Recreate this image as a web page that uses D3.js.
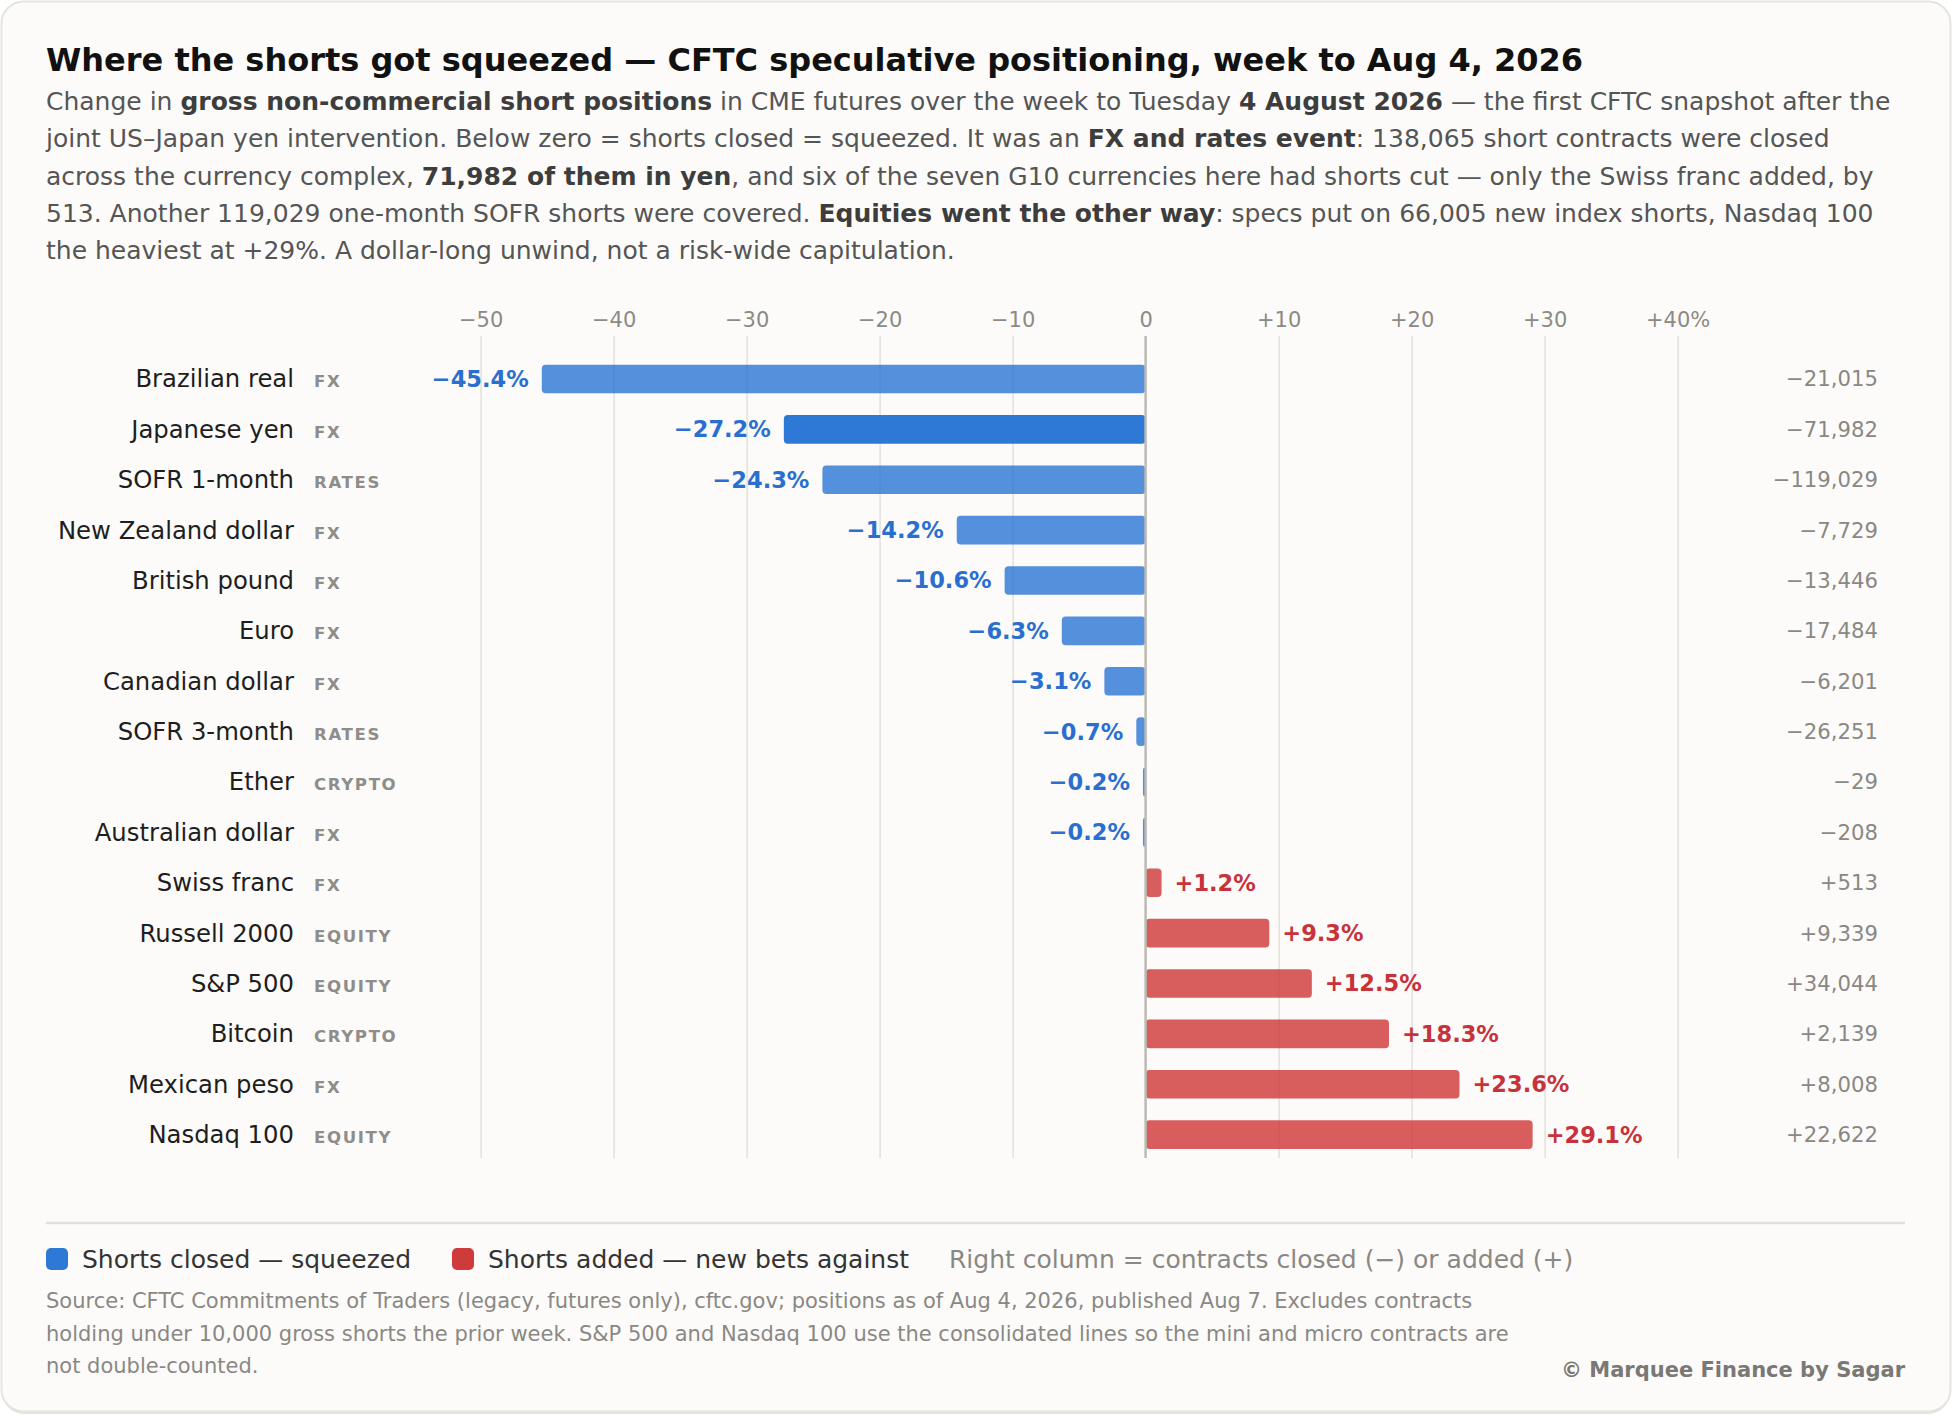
<!DOCTYPE html>
<html>
<head>
<meta charset="utf-8">
<script src="https://cdn.jsdelivr.net/npm/d3@7"></script>
<style>
  html, body { margin: 0; padding: 0; background: #ffffff; }
  svg { display: block; font-family: "DejaVu Sans", sans-serif; }
</style>
</head>
<body>
<div id="chart"></div>
<script>
// rows, top to bottom
const names = ['Brazilian real', 'Japanese yen', 'SOFR 1-month', 'New Zealand dollar', 'British pound',
  'Euro', 'Canadian dollar', 'SOFR 3-month', 'Ether', 'Australian dollar', 'Swiss franc',
  'Russell 2000', 'S&P 500', 'Bitcoin', 'Mexican peso', 'Nasdaq 100'];
const tags = ['FX', 'FX', 'RATES', 'FX', 'FX', 'FX', 'FX', 'RATES', 'CRYPTO', 'FX', 'FX',
  'EQUITY', 'EQUITY', 'CRYPTO', 'FX', 'EQUITY'];
const pctChange = [-45.4, -27.2, -24.3, -14.2, -10.6, -6.3, -3.1, -0.7, -0.2, -0.2, 1.2,
  9.3, 12.5, 18.3, 23.6, 29.1];
const contracts = [-21015, -71982, -119029, -7729, -13446, -17484, -6201, -26251, -29, -208, 513,
  9339, 34044, 2139, 8008, 22622];
const highlight = ['Japanese yen'];
const tickValues = [-50, -40, -30, -20, -10, 0, 10, 20, 30, 40];

const title = 'Where the shorts got squeezed \u2014 CFTC speculative positioning, week to Aug 4, 2026';
// [text, bold]
const subtitleLines = [
  [['Change in ', false], ['gross non-commercial short positions', true], [' in CME futures over the week to Tuesday ', false],
    ['4 August 2026', true], [' \u2014 the first CFTC snapshot after the', false]],
  [['joint US\u2013Japan yen intervention. Below zero = shorts closed = squeezed. It was an ', false],
    ['FX and rates event', true], [': 138,065 short contracts were closed', false]],
  [['across the currency complex, ', false], ['71,982 of them in yen', true],
    [', and six of the seven G10 currencies here had shorts cut \u2014 only the Swiss franc added, by', false]],
  [['513. Another 119,029 one-month SOFR shorts were covered. ', false], ['Equities went the other way', true],
    [': specs put on 66,005 new index shorts, Nasdaq 100', false]],
  [['the heaviest at +29%. A dollar-long unwind, not a risk-wide capitulation.', false]]
];
const legendItems = ['Shorts closed \u2014 squeezed', 'Shorts added \u2014 new bets against'];
const legendNote = 'Right column = contracts closed (\u2212) or added (+)';
const sourceLines = [
  'Source: CFTC Commitments of Traders (legacy, futures only), cftc.gov; positions as of Aug 4, 2026, published Aug 7. Excludes contracts',
  'holding under 10,000 gross shorts the prior week. S&P 500 and Nasdaq 100 use the consolidated lines so the mini and micro contracts are',
  'not double-counted.'
];
const credit = '\u00a9 Marquee Finance by Sagar';

const W = 1952, H = 1416;
const BLUE = '#2e78d6', RED = '#cf3b3b';
const BLUE_TXT = '#2a6fcf', RED_TXT = '#c8323a';

let svg = d3.select('#chart').append('svg')
  .attr('width', W).attr('height', H);

// card
svg.append('rect')
  .attr('x', 2).attr('y', 4).attr('width', W - 4).attr('height', H - 6)
  .attr('rx', 22).attr('fill', '#e4e2de');
svg.append('rect')
  .attr('x', 1.5).attr('y', 1.5).attr('width', W - 3).attr('height', H - 6)
  .attr('rx', 22).attr('fill', '#fcfbf9').attr('stroke', '#e6e4e0').attr('stroke-width', 2);

// title + subtitle
svg.append('text')
  .attr('x', 46).attr('y', 71)
  .attr('font-size', 32).attr('font-weight', 'bold').attr('fill', '#111')
  .text(title);

let sub = svg.append('g');
subtitleLines.forEach(function(line, i) {
  let t = sub.append('text')
    .attr('x', 46).attr('y', 110 + i * 37.3)
    .attr('font-size', 25).attr('fill', '#555');
  line.forEach(function(seg) {
    t.append('tspan')
      .attr('font-weight', seg[1] ? 'bold' : 'normal')
      .attr('fill', seg[1] ? '#3d3d3d' : '#555')
      .text(seg[0]);
  });
});

// scales
let gridTop = 336, gridBottom = 1158;
let x = d3.scaleLinear().domain([-50, 40]).range([480.6, 1677.6]);
let y = d3.scaleBand().domain(names).range([353.8, 1159.8]).paddingInner(0.43).paddingOuter(0.215);

let fmtTick = function(d) {
  if (d === 0) return '0';
  if (d < 0) return '\u2212' + Math.abs(d);
  return '+' + d + (d === 40 ? '%' : '');
};
let fmtPct = function(d) {
  return (d < 0 ? '\u2212' : '+') + Math.abs(d).toFixed(1) + '%';
};
let fmtNum = function(d) {
  return (d < 0 ? '\u2212' : '+') + d3.format(',')(Math.abs(d));
};

let axis = svg.append('g')
  .attr('transform', 'translate(0,' + gridTop + ')')
  .call(d3.axisTop(x).tickValues(tickValues).tickFormat(fmtTick)
    .tickSize(-(gridBottom - gridTop)).tickPadding(9));
axis.select('.domain').remove();
axis.selectAll('.tick line')
  .attr('stroke', '#e2e0db')
  .attr('stroke-width', 1.5);
axis.selectAll('.tick text')
  .attr('font-family', '"DejaVu Sans", sans-serif')
  .attr('font-size', 21).attr('fill', '#8c8a85');
axis.selectAll('.tick').filter(function(d) { return d === 0; }).select('line').remove();

let rows = svg.append('g');
let data = names.map(function(n, i) {
  return {name: n, tag: tags[i], pct: pctChange[i], num: contracts[i]};
});

let mid = function(d) { return y(d.name) + y.bandwidth() / 2; };

rows.selectAll('.bar')
  .data(data).enter().append('rect')
  .attr('class', 'bar')
  .attr('x', function(d) { return x(Math.min(0, d.pct)); })
  .attr('y', function(d) { return y(d.name); })
  .attr('width', function(d) { return Math.max(2.5, Math.abs(x(d.pct) - x(0))); })
  .attr('height', y.bandwidth())
  .attr('rx', 4)
  .attr('fill', function(d) { return d.pct < 0 ? BLUE : RED; })
  .attr('fill-opacity', function(d) { return highlight.indexOf(d.name) >= 0 ? 1 : 0.82; });

// zero line above bars
svg.append('line')
  .attr('x1', x(0)).attr('x2', x(0))
  .attr('y1', gridTop).attr('y2', gridBottom)
  .attr('stroke', '#bdbab3').attr('stroke-width', 2.5);

rows.selectAll('.val')
  .data(data).enter().append('text')
  .attr('class', 'val')
  .attr('x', function(d) { return d.pct < 0 ? x(d.pct) - 13 : x(d.pct) + 13; })
  .attr('y', function(d) { return mid(d) + 8; })
  .attr('text-anchor', function(d) { return d.pct < 0 ? 'end' : 'start'; })
  .attr('font-size', 22.5).attr('font-weight', 'bold')
  .attr('fill', function(d) { return d.pct < 0 ? BLUE_TXT : RED_TXT; })
  .text(function(d) { return fmtPct(d.pct); });

rows.selectAll('.name')
  .data(data).enter().append('text')
  .attr('class', 'name')
  .attr('x', 294).attr('y', function(d) { return mid(d) + 8.5; })
  .attr('text-anchor', 'end')
  .attr('font-size', 24.3).attr('fill', '#1e1e1e')
  .text(function(d) { return d.name; });

rows.selectAll('.tag')
  .data(data).enter().append('text')
  .attr('class', 'tag')
  .attr('x', 314).attr('y', function(d) { return mid(d) + 8.5; })
  .attr('font-size', 16.6).attr('font-weight', 'bold')
  .attr('letter-spacing', 1.6).attr('fill', '#8f8d89')
  .text(function(d) { return d.tag; });

rows.selectAll('.num')
  .data(data).enter().append('text')
  .attr('class', 'num')
  .attr('x', 1878).attr('y', function(d) { return mid(d) + 7.5; })
  .attr('text-anchor', 'end')
  .attr('font-size', 21.2).attr('fill', '#8a8884')
  .text(function(d) { return fmtNum(d.num); });

// separator
svg.append('line')
  .attr('x1', 46).attr('x2', 1905).attr('y1', 1223).attr('y2', 1223)
  .attr('stroke', '#e2e0db').attr('stroke-width', 2.5);

// legend
let legend = svg.append('g');
let legendX = [46, 452];
legendItems.forEach(function(txt, i) {
  legend.append('rect')
    .attr('x', legendX[i]).attr('y', 1248).attr('width', 22).attr('height', 22)
    .attr('rx', 5).attr('fill', i === 0 ? BLUE : RED);
  legend.append('text')
    .attr('x', legendX[i] + 36).attr('y', 1268)
    .attr('font-size', 25).attr('fill', '#333')
    .text(txt);
});
legend.append('text')
  .attr('x', 949).attr('y', 1268)
  .attr('font-size', 25).attr('fill', '#8a8884')
  .text(legendNote);

// source + credit
sourceLines.forEach(function(line, i) {
  svg.append('text')
    .attr('x', 46).attr('y', 1308 + i * 32.5)
    .attr('font-size', 21).attr('fill', '#8a8884')
    .text(line);
});
svg.append('text')
  .attr('x', 1905).attr('y', 1377)
  .attr('text-anchor', 'end')
  .attr('font-size', 21).attr('font-weight', 'bold').attr('fill', '#7a7874')
  .text(credit);
</script>
</body>
</html>
